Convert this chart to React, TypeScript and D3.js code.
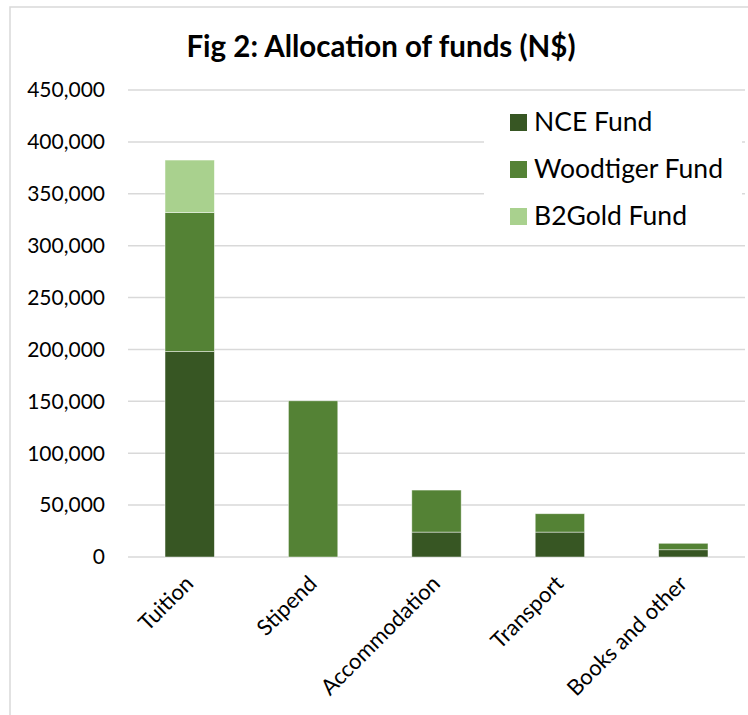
import React from 'react';
import * as d3 from 'd3';

const categories = ['Tuition', 'Stipend', 'Accommodation', 'Transport', 'Books and other'];
const seriesNames = ['NCE Fund', 'Woodtiger Fund', 'B2Gold Fund'];
const nceFund = [198000, 0, 24000, 24000, 7000];
const woodtigerFund = [134000, 150500, 40500, 17700, 6200];
const b2goldFund = [50500, 0, 0, 0, 0];
const yTicks = [0, 50000, 100000, 150000, 200000, 250000, 300000, 350000, 400000, 450000];
const colors = ['#375623', '#548235', '#a9d18e'];

const W = 748;
const H = 715;
const margin = { top: 90, right: 3, bottom: 158, left: 128 };
const font = 'Lato, "Open Sans", sans-serif';

const App = () => {
  const rows = categories.map((c, i) => ({
    category: c,
    'NCE Fund': nceFund[i],
    'Woodtiger Fund': woodtigerFund[i],
    'B2Gold Fund': b2goldFund[i],
  }));
  const stacked = d3.stack<any>().keys(seriesNames)(rows);

  const x = d3
    .scaleBand()
    .domain(categories)
    .range([margin.left, W - margin.right])
    .paddingInner(0.6)
    .paddingOuter(0.3);
  const y = d3
    .scaleLinear()
    .domain([0, 450000])
    .range([H - margin.bottom, margin.top]);
  const fmt = d3.format(',');

  return (
    <svg
      width={W}
      height={H}
      style={{ position: 'absolute', left: 0, top: 0, background: '#fff' }}
      fontFamily={font}
    >
      <rect x={10} y={7} width={W} height={H} fill="#fff" stroke="#d9d9d9" strokeWidth={1.5} />

      <text x={381} y={57} textAnchor="middle" fontSize={29.5} fontWeight="bold" fill="#000">
        Fig 2: Allocation of funds (N$)
      </text>

      {/* gridlines + y labels */}
      {yTicks.map((t) => (
        <g key={t}>
          <line
            x1={margin.left}
            x2={W - margin.right}
            y1={y(t)}
            y2={y(t)}
            stroke="#d9d9d9"
            strokeWidth={1.5}
          />
          <text x={105} y={y(t)} dy="0.35em" textAnchor="end" fontSize={21} fill="#000">
            {fmt(t)}
          </text>
        </g>
      ))}

      {/* bars */}
      {stacked.map((s, si) => (
        <g key={s.key} fill={colors[si]}>
          {s.map((d, i) =>
            d[1] - d[0] > 0 ? (
              <rect
                key={i}
                x={x(categories[i])}
                y={y(d[1])}
                width={x.bandwidth()}
                height={y(d[0]) - y(d[1])}
                stroke="#fff"
                strokeOpacity={0.6}
                strokeWidth={0.75}
              />
            ) : null
          )}
        </g>
      ))}

      {/* x labels */}
      {categories.map((c) => {
        const cx = (x(c) as number) + x.bandwidth() / 2 + 5;
        const cy = y(0) + 28;
        return (
          <text
            key={c}
            x={cx}
            y={cy}
            textAnchor="end"
            fontSize={22}
            fill="#000"
            transform={`rotate(-45, ${cx}, ${cy})`}
          >
            {c}
          </text>
        );
      })}

      {/* legend */}
      <rect x={484} y={100} width={258} height={134} fill="#fff" />
      {seriesNames.map((n, i) => (
        <g key={n} transform={`translate(510, ${131 + i * 47})`}>
          <rect x={0} y={-17} width={17} height={17} fill={colors[i]} />
          <text x={24} y={0} fontSize={26.5} fill="#000">
            {n}
          </text>
        </g>
      ))}
    </svg>
  );
};

export default App;
